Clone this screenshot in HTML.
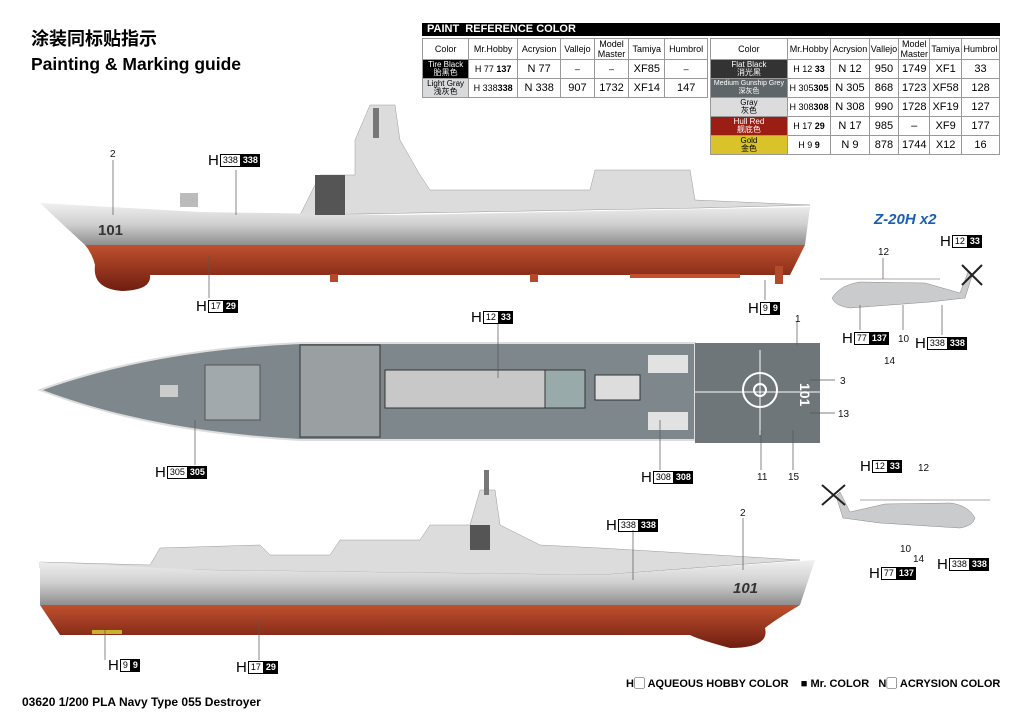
<!DOCTYPE html>
<html><head><meta charset="utf-8"><style>
body{margin:0;width:1024px;height:715px;background:#fff;position:relative;overflow:hidden;font-family:"Liberation Sans","Noto Sans CJK SC",sans-serif;}
.a{position:absolute;}
.h{position:absolute;font-size:13px;line-height:13px;display:flex;align-items:center;white-space:nowrap}
.h b{font-weight:normal;font-size:15px;margin-right:1px}
.h i{font-style:normal;border:1px solid #000;font-size:9px;padding:0 2px;height:11px;line-height:11px;display:inline-block}
.h u{text-decoration:none;background:#000;color:#fff;font-weight:bold;font-size:9px;padding:0 2px;height:13px;line-height:13px;display:inline-block}
table{border-collapse:collapse;position:absolute;font-size:9px;}
td{border:1px solid #999;text-align:center;padding:0;height:18px;font-size:9px}
.n{font-size:11px}
</style></head><body>
<div class="a" style="left:31px;top:28px;font-size:18px;line-height:20px;font-family:'Noto Sans CJK SC',sans-serif;font-weight:bold">涂装同标贴指示</div>
<div class="a" style="left:31px;top:54px;font-size:17.5px;line-height:20px;font-weight:bold">Painting &amp; Marking guide</div>
<div class="a" style="left:422px;top:23px;width:578px;height:13px;background:#000;color:#fff;font-size:11px;font-weight:bold;line-height:13px;padding-left:5px;box-sizing:border-box">PAINT &nbsp;REFERENCE COLOR</div>
<table style="left:422px;top:38px;width:286px">
<tr style="height:21px"><td>Color</td><td>Mr.Hobby</td><td>Acrysion</td><td>Vallejo</td><td>Model<br>Master</td><td>Tamiya</td><td>Humbrol</td></tr>
<tr><td style="background:#000;color:#fff;font-size:8px;line-height:8px">Tire Black<br>胎黑色</td><td>H 77 <b>137</b></td><td class="n">N 77</td><td>–</td><td>–</td><td class="n">XF85</td><td>–</td></tr>
<tr><td style="background:#d8dadb;font-size:8px;line-height:8px">Light Gray<br>浅灰色</td><td>H 338<b>338</b></td><td class="n">N 338</td><td class="n">907</td><td class="n">1732</td><td class="n">XF14</td><td class="n">147</td></tr>
</table>
<table style="left:710px;top:38px;width:290px">
<tr style="height:21px"><td>Color</td><td>Mr.Hobby</td><td>Acrysion</td><td>Vallejo</td><td>Model<br>Master</td><td>Tamiya</td><td>Humbrol</td></tr>
<tr><td style="background:#333;color:#fff;font-size:8px;line-height:8px">Flat Black<br>消光黑</td><td>H 12 <b>33</b></td><td class="n">N 12</td><td class="n">950</td><td class="n">1749</td><td class="n">XF1</td><td class="n">33</td></tr>
<tr><td style="background:#5f6669;color:#fff;font-size:7px;line-height:8px">Medium Gunship Grey<br>深灰色</td><td>H 305<b>305</b></td><td class="n">N 305</td><td class="n">868</td><td class="n">1723</td><td class="n">XF58</td><td class="n">128</td></tr>
<tr><td style="background:#dcdcdc;font-size:8px;line-height:8px">Gray<br>灰色</td><td>H 308<b>308</b></td><td class="n">N 308</td><td class="n">990</td><td class="n">1728</td><td class="n">XF19</td><td class="n">127</td></tr>
<tr><td style="background:#9b1e14;color:#fff;font-size:8px;line-height:8px">Hull Red<br>舰底色</td><td>H 17 <b>29</b></td><td class="n">N 17</td><td class="n">985</td><td class="n">–</td><td class="n">XF9</td><td class="n">177</td></tr>
<tr><td style="background:#d9c22a;font-size:8px;line-height:8px">Gold<br>金色</td><td>H 9 <b>9</b></td><td class="n">N 9</td><td class="n">878</td><td class="n">1744</td><td class="n">X12</td><td class="n">16</td></tr>
</table>

<svg class="a" style="left:0;top:0" width="1024" height="715">
<defs>
<linearGradient id="gh" x1="0" y1="0" x2="0" y2="1"><stop offset="0" stop-color="#f0f0f0"/><stop offset="0.5" stop-color="#d0d0d0"/><stop offset="1" stop-color="#8e8e8e"/></linearGradient>
<linearGradient id="rh" x1="0" y1="0" x2="0" y2="1"><stop offset="0" stop-color="#c0502e"/><stop offset="1" stop-color="#6e1d10"/></linearGradient>
</defs>
<!-- top side view -->
<g>
<path d="M300,215 L320,175 L355,175 L355,140 L370,105 L395,105 L400,140 L420,175 L430,190 L590,190 L595,170 L690,170 L695,200 L810,205 L700,208 L300,215Z" fill="#dcdcdc" stroke="#999" stroke-width=".5"/>
<path d="M40,203 L200,212 L400,215 L810,207 L805,245 L85,245 Q60,222 40,203Z" fill="url(#gh)"/>
<path d="M85,245 L805,245 L790,275 L150,275 Q152,290 122,291 Q92,289 95,265 Q92,253 85,245Z" fill="url(#rh)"/>
<rect x="315" y="175" width="30" height="40" fill="#555"/>
<rect x="373" y="108" width="6" height="30" fill="#777"/>
<rect x="180" y="193" width="18" height="14" fill="#bbb"/>
<rect x="330" y="274" width="8" height="8" fill="#b54a2a"/><rect x="530" y="274" width="8" height="8" fill="#b54a2a"/><rect x="775" y="266" width="8" height="18" fill="#b54a2a"/>
<rect x="630" y="274" width="110" height="4" fill="#c0502e"/>
<text x="98" y="235" font-size="15" fill="#333" font-weight="bold">101</text>
</g>
<!-- bottom side view -->
<g>
<path d="M40,562 L150,565 L160,548 L260,545 L270,555 L330,555 L340,540 L420,540 L430,525 L470,525 L480,490 L495,490 L500,525 L540,545 L600,548 L800,560 L600,575 L40,568Z" fill="#dcdcdc" stroke="#999" stroke-width=".5"/>
<path d="M40,562 L200,570 L600,575 L815,560 L800,605 L40,605 Z" fill="url(#gh)"/>
<path d="M40,605 L800,605 Q775,620 765,628 Q770,648 730,648 Q700,640 690,635 L60,635 Z" fill="url(#rh)"/>
<rect x="470" y="525" width="20" height="25" fill="#555"/>
<rect x="484" y="470" width="5" height="25" fill="#777"/>
<text x="733" y="593" font-size="15" fill="#333" font-weight="bold" font-style="italic">101</text>
<rect x="92" y="630" width="30" height="4" fill="#c8b030"/>
</g>
<!-- top view -->
<g>
<path d="M40,390 Q150,350 300,343 L695,343 L695,440 L300,440 Q150,432 40,390Z" fill="#7e878b" stroke="#ddd" stroke-width="2"/>
<rect x="695" y="343" width="125" height="100" fill="#6e767a"/>
<rect x="205" y="365" width="55" height="55" fill="#a2a9ac" stroke="#555" stroke-width="1"/>
<rect x="300" y="345" width="80" height="92" fill="#9a9fa2" stroke="#333"/>
<rect x="385" y="370" width="160" height="38" fill="#c8c8c8" stroke="#333"/>
<rect x="545" y="370" width="40" height="38" fill="#9aa" stroke="#333"/>
<rect x="595" y="375" width="45" height="25" fill="#ddd" stroke="#333"/>
<rect x="648" y="355" width="40" height="18" fill="#e2e2e2"/><rect x="648" y="412" width="40" height="18" fill="#e2e2e2"/>
<circle cx="760" cy="390" r="17" fill="none" stroke="#fff" stroke-width="2"/><circle cx="760" cy="390" r="6" fill="none" stroke="#fff" stroke-width="2"/>
<line x1="695" y1="392" x2="820" y2="392" stroke="#fff"/><line x1="760" y1="350" x2="760" y2="435" stroke="#fff"/>
<text x="800" y="383" font-size="14" fill="#fff" font-weight="bold" transform="rotate(90 800 383)">101</text>
<rect x="160" y="385" width="18" height="12" fill="#ccc"/>
</g>
<!-- helicopters -->
<g fill="#c9cbcd" stroke="#888" stroke-width=".5">
<line x1="820" y1="279" x2="940" y2="279" stroke="#555"/>
<path d="M832,298 Q840,285 860,282 L925,283 L960,293 L968,272 L972,276 L965,298 L930,302 L850,308 Q835,306 832,298Z"/>
<line x1="962" y1="265" x2="982" y2="285" stroke="#222" stroke-width="2"/><line x1="982" y1="265" x2="962" y2="285" stroke="#222" stroke-width="2"/>
<line x1="860" y1="500" x2="990" y2="500" stroke="#555"/>
<path d="M975,518 Q968,505 950,503 L885,504 L850,512 L840,492 L836,496 L843,518 L880,523 L960,528 Q973,526 975,518Z"/>
<line x1="822" y1="485" x2="845" y2="505" stroke="#222" stroke-width="2"/><line x1="845" y1="485" x2="822" y2="505" stroke="#222" stroke-width="2"/>
</g>
<!-- leader lines -->
<g stroke="#555" stroke-width=".7">
<line x1="113" y1="160" x2="113" y2="215"/><line x1="236" y1="170" x2="236" y2="215"/><line x1="209" y1="255" x2="209" y2="298"/>
<line x1="765" y1="280" x2="765" y2="300"/><line x1="498" y1="323" x2="498" y2="378"/><line x1="797" y1="321" x2="797" y2="345"/>
<line x1="810" y1="380" x2="835" y2="380"/><line x1="810" y1="413" x2="835" y2="413"/><line x1="195" y1="420" x2="195" y2="465"/>
<line x1="660" y1="420" x2="660" y2="470"/><line x1="761" y1="430" x2="761" y2="470"/><line x1="793" y1="430" x2="793" y2="470"/>
<line x1="743" y1="518" x2="743" y2="570"/><line x1="633" y1="530" x2="633" y2="580"/><line x1="259" y1="620" x2="259" y2="660"/><line x1="105" y1="630" x2="105" y2="660"/>
<line x1="883" y1="258" x2="883" y2="279"/><line x1="860" y1="305" x2="860" y2="330"/><line x1="903" y1="305" x2="903" y2="330"/><line x1="942" y1="305" x2="942" y2="335"/>
</g>
<g font-size="10" fill="#111">
<text x="110" y="157">2</text><text x="795" y="322">1</text><text x="840" y="384">3</text><text x="838" y="417">13</text>
<text x="757" y="480">11</text><text x="788" y="480">15</text><text x="740" y="516">2</text>
<text x="878" y="255">12</text><text x="898" y="342">10</text><text x="884" y="364">14</text>
<text x="918" y="471">12</text><text x="900" y="552">10</text><text x="913" y="562">14</text>
</g>
<text x="874" y="224" font-size="15" fill="#1a5fb0" font-weight="bold" font-style="italic">Z-20H x2</text>
</svg>

<div class="h" style="left:208px;top:154px"><b>H</b><i>338</i><u>338</u></div>
<div class="h" style="left:196px;top:300px"><b>H</b><i>17</i><u>29</u></div>
<div class="h" style="left:748px;top:302px"><b>H</b><i>9</i><u>9</u></div>
<div class="h" style="left:471px;top:311px"><b>H</b><i>12</i><u>33</u></div>
<div class="h" style="left:155px;top:466px"><b>H</b><i>305</i><u>305</u></div>
<div class="h" style="left:641px;top:471px"><b>H</b><i>308</i><u>308</u></div>
<div class="h" style="left:606px;top:519px"><b>H</b><i>338</i><u>338</u></div>
<div class="h" style="left:236px;top:661px"><b>H</b><i>17</i><u>29</u></div>
<div class="h" style="left:108px;top:659px"><b>H</b><i>9</i><u>9</u></div>
<div class="h" style="left:940px;top:235px"><b>H</b><i>12</i><u>33</u></div>
<div class="h" style="left:842px;top:332px"><b>H</b><i>77</i><u>137</u></div>
<div class="h" style="left:915px;top:337px"><b>H</b><i>338</i><u>338</u></div>
<div class="h" style="left:860px;top:460px"><b>H</b><i>12</i><u>33</u></div>
<div class="h" style="left:869px;top:567px"><b>H</b><i>77</i><u>137</u></div>
<div class="h" style="left:937px;top:558px"><b>H</b><i>338</i><u>338</u></div>
<div class="a" style="left:626px;top:675px;font-size:11px;font-weight:bold;white-space:nowrap">H▢ AQUEOUS HOBBY COLOR &nbsp;&nbsp;&nbsp;■ Mr. COLOR &nbsp;&nbsp;N▢ ACRYSION COLOR</div>
<div class="a" style="left:22px;top:695px;font-size:12px;font-weight:bold">03620 1/200 PLA Navy Type 055 Destroyer</div>
</body></html>
